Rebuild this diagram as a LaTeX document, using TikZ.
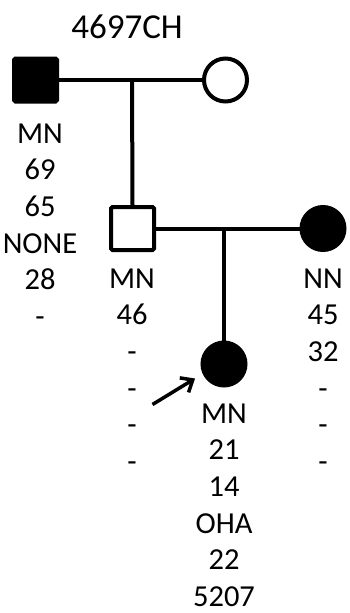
\documentclass[tikz,border=0pt]{standalone}
\usepackage{fontspec}
\setmainfont{Carlito}
\usetikzlibrary{arrows.meta}
\begin{document}
\begin{tikzpicture}[x=1pt,y=-1pt,line width=4pt,
        male/.style={rectangle, draw, minimum size=43pt, inner sep=0pt, rounded corners=1.5pt},
        female/.style={circle, draw, minimum size=43pt, inner sep=0pt},
        info/.style={align=center, inner sep=0pt, anchor=base, font=\fontsize{30.5}{36.7}\selectfont}]
        \useasboundingbox (0,0) rectangle (350,613);

        \node[anchor=base, inner sep=0pt, font=\fontsize{35}{40}\selectfont] (title) at (127,38) {4697CH};

        \node[male, fill=black] (gf) at (35.5,80) {};
        \node[female, fill=white] (gm) at (225.5,80) {};
        \node[male, fill=white] (fa) at (132.5,228.5) {};
        \node[female, fill=black] (mo) at (323,228.5) {};
        \node[female, fill=black] (pb) at (224,364) {};

        \coordinate (c1) at (132,80);
        \coordinate (c2) at (224,228.5);
        \coordinate (tail) at (152.5,404.5);
        \coordinate (tip) at (195,378.5);

        \draw (gf) -- (gm);
        \draw (c1) -- (fa.north);
        \draw (fa) -- (mo);
        \draw (c2) -- (pb.north);
        \draw[line width=3.5pt, -{Straight Barb[length=10pt,width=17pt]}] (tail) -- (tip);

        % base anchor sits on the last line
        \node[info] (gfinfo) at (40,326.5) {MN\\69\\65\\NONE\\28\\-};
        \node[info] (fainfo) at (132,471.5) {MN\\46\\-\\-\\-\\-};
        \node[info] (moinfo) at (323,471.5) {NN\\45\\32\\-\\-\\-};
        \node[info] (pbinfo) at (224,606.5) {MN\\21\\14\\OHA\\22\\5207};

    \end{tikzpicture}
\end{document}
